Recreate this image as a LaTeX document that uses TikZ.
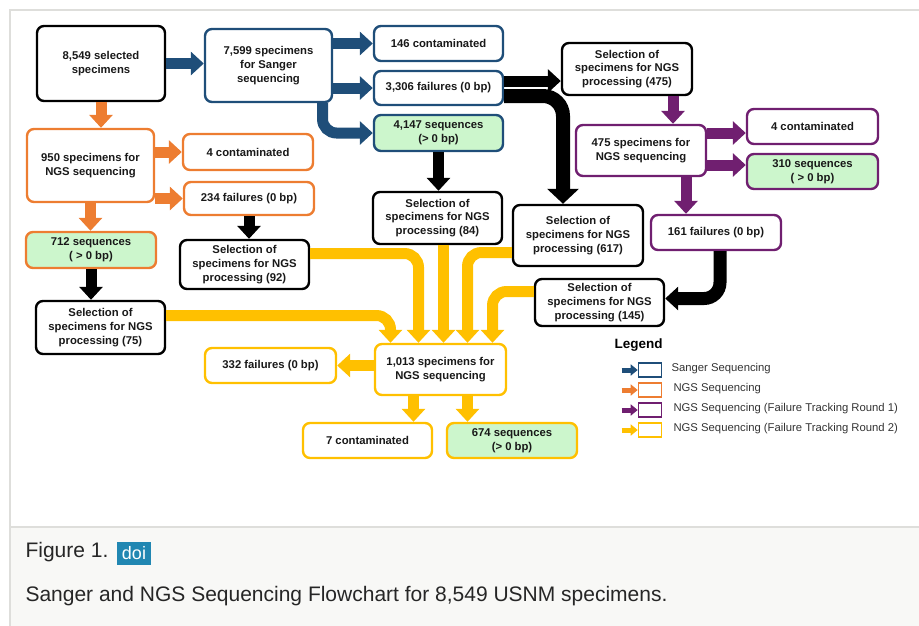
\documentclass[tikz,border=0pt]{standalone}
\usepackage{fontspec}
\setmainfont{Liberation Sans}
\usetikzlibrary{arrows.meta,calc}
\newlength{\du}
\setlength{\du}{1pt}
\newcommand{\boxfont}{\fontsize{11.3}{13.8}\selectfont\bfseries}
\newcommand{\legfont}{\fontsize{11.3}{13.8}\selectfont}
\tikzset{
  flowbox/.style={draw, rounded corners=7\du, line width=2.4\du, fill=white,
    align=center, inner sep=0pt, font=\boxfont, text=black!90},
  seqbox/.style={flowbox, fill=seqfill},
  flowarrow/.style={line width=11\du, -{Triangle[width=23pt,length=13pt]}},
  bigarrow/.style={line width=14\du, -{Triangle[width=31pt,length=15pt]}},
  legarrow/.style={line width=5\du, -{Triangle[width=11pt,length=7pt]}},
  legbox/.style={draw, line width=1.6\du, minimum width=23\du, minimum height=14\du, inner sep=0pt},
}

\begin{document}
\begin{tikzpicture}
\pgftransformxscale{1.000000}
\pgftransformyscale{-1.000000}
\useasboundingbox (0\du,0\du) rectangle (919\du,625\du);
\definecolor{sangercolor}{rgb}{0.122, 0.306, 0.475}
\definecolor{ngscolor}{rgb}{0.929, 0.490, 0.192}
\definecolor{roundonecolor}{rgb}{0.440, 0.120, 0.440}
\definecolor{roundtwocolor}{rgb}{1.000, 0.753, 0.000}
\definecolor{seqfill}{rgb}{0.800, 0.965, 0.800}
\definecolor{panelline}{rgb}{0.870, 0.870, 0.860}
\definecolor{captionbg}{rgb}{0.972, 0.972, 0.965}
\definecolor{doiblue}{rgb}{0.130, 0.530, 0.700}
% panel and caption
\draw[panelline, line width=1.2\du] (10\du,640\du) -- (10\du,10\du) -- (940\du,10\du);
\fill[captionbg] (10\du,527\du) rectangle (940\du,640\du);
\draw[panelline, line width=1.5\du] (10\du,640\du) -- (10\du,527\du) -- (940\du,527\du);
% Sanger
\node[flowbox, draw=black, minimum width=128\du, minimum height=75\du] (selected) at (101\du,63.5\du) {8,549 selected\\specimens};
\node[flowbox, draw=sangercolor, minimum width=127\du, minimum height=73\du] (sanger) at (268.5\du,65.5\du) {7,599 specimens\\for Sanger\\sequencing};
\node[flowbox, draw=sangercolor, minimum width=129\du, minimum height=35\du] (sangercont) at (438.5\du,43.5\du) {146 contaminated};
\node[flowbox, draw=sangercolor, minimum width=129\du, minimum height=34\du] (sangerfail) at (438.5\du,88\du) {3,306 failures (0 bp)};
\node[seqbox, draw=sangercolor, minimum width=129\du, minimum height=36\du] (sangerseq) at (438.5\du,133\du) {4,147 sequences\\(> 0 bp)};
% NGS
\node[flowbox, draw=ngscolor, minimum width=127\du, minimum height=73\du] (ngsfirst) at (90.5\du,165.5\du) {950 specimens for\\NGS sequencing};
\node[flowbox, draw=ngscolor, minimum width=130\du, minimum height=36\du] (ngscont) at (248\du,152\du) {4 contaminated};
\node[flowbox, draw=ngscolor, minimum width=130\du, minimum height=33\du] (ngsfail) at (249\du,198.5\du) {234 failures (0 bp)};
\node[seqbox, draw=ngscolor, minimum width=130\du, minimum height=36\du] (ngsseq) at (91\du,250\du) {712 sequences\\( > 0 bp)};
\node[flowbox, draw=black, minimum width=129\du, minimum height=53\du] (selseqngs) at (100.5\du,327.5\du) {Selection of\\specimens for NGS\\processing (75)};
\node[flowbox, draw=black, minimum width=129\du, minimum height=49\du] (selfailngs) at (244.5\du,264.5\du) {Selection of\\specimens for NGS\\processing (92)};
\node[flowbox, draw=black, minimum width=129\du, minimum height=52\du] (selseqsanger) at (437.5\du,218\du) {Selection of\\specimens for NGS\\processing (84)};
\node[flowbox, draw=black, minimum width=130\du, minimum height=61\du] (selfailsanger) at (578\du,235.5\du) {Selection of\\specimens for NGS\\processing (617)};
% failure tracking round 1
\node[flowbox, draw=black, minimum width=130\du, minimum height=52\du] (selroundone) at (627\du,69\du) {Selection of\\specimens for NGS\\processing (475)};
\node[flowbox, draw=roundonecolor, minimum width=130\du, minimum height=51\du] (roundone) at (641\du,150.5\du) {475 specimens for\\NGS sequencing};
\node[flowbox, draw=roundonecolor, minimum width=131\du, minimum height=35\du] (roundonecont) at (812.5\du,126.5\du) {4 contaminated};
\node[seqbox, draw=roundonecolor, minimum width=131\du, minimum height=35\du] (roundoneseq) at (812.5\du,171.5\du) {310 sequences\\( > 0 bp)};
\node[flowbox, draw=roundonecolor, minimum width=130\du, minimum height=35\du] (roundonefail) at (716\du,232.5\du) {161 failures (0 bp)};
\node[flowbox, draw=black, minimum width=129\du, minimum height=47\du] (selfailround) at (599.5\du,302.5\du) {Selection of\\specimens for NGS\\processing (145)};
% failure tracking round 2
\node[flowbox, draw=roundtwocolor, minimum width=131\du, minimum height=51\du] (roundtwo) at (440.5\du,369.5\du) {1,013 specimens for\\NGS sequencing};
\node[flowbox, draw=roundtwocolor, minimum width=131\du, minimum height=35\du] (roundtwofail) at (270.5\du,365.5\du) {332 failures (0 bp)};
\node[flowbox, draw=roundtwocolor, minimum width=129\du, minimum height=35\du] (roundtwocont) at (367.5\du,440.5\du) {7 contaminated};
\node[seqbox, draw=roundtwocolor, minimum width=130\du, minimum height=35\du] (roundtwoseq) at (512\du,440.5\du) {674 sequences\\(> 0 bp)};
% arrows
\draw[flowarrow, sangercolor] (selected.east) -- (selected.east -| sanger.west);
\draw[flowarrow, sangercolor] (sanger.east |- sangercont.west) -- (sangercont.west);
\draw[flowarrow, sangercolor] (sanger.east |- sangerfail.west) -- (sangerfail.west);
\draw[flowarrow, sangercolor, rounded corners=14\du] ($(sanger.south)+(54\du,0)$) |- (sangerseq.west);
\draw[flowarrow, ngscolor] (selected.south) -- (selected.south |- ngsfirst.north);
\draw[flowarrow, ngscolor] (ngsfirst.east |- ngscont.west) -- (ngscont.west);
\draw[flowarrow, ngscolor] (ngsfirst.east |- ngsfail.west) -- (ngsfail.west);
\draw[flowarrow, ngscolor] (ngsfirst.south) -- (ngsfirst.south |- ngsseq.north);
\draw[flowarrow, black] (ngsfail.south) -- (ngsfail.south |- selfailngs.north);
\draw[flowarrow, black] (ngsseq.south) -- (ngsseq.south |- selseqngs.north);
\draw[flowarrow, black] (sangerseq.south) -- (sangerseq.south |- selseqsanger.north);
\draw[flowarrow, black] ($(sangerfail.east)+(0,-7\du)$) coordinate (failtop) -- (failtop -| selroundone.west);
\draw[bigarrow, black, rounded corners=20\du] ($(sangerfail.east)+(0,8\du)$) -| ($(selfailsanger.north)+(-15\du,0)$);
\draw[flowarrow, black, line width=13\du, rounded corners=16\du] ($(roundonefail.south)+(4\du,0)$) |- ($(selfailround.east)+(0,-4\du)$);
\path ($(roundonecont.west)+(0,6.5\du)$) coordinate (contin)
      ($(roundoneseq.west)+(0,-6.5\du)$) coordinate (seqin);
\draw[flowarrow, roundonecolor] ($(selroundone.south)+(46\du,0)$) coordinate (selout) -- (selout |- roundone.north);
\draw[flowarrow, roundonecolor] (roundone.east |- contin) -- (contin);
\draw[flowarrow, roundonecolor] (roundone.east |- seqin) -- (seqin);
\draw[flowarrow, roundonecolor] ($(roundone.south)+(45\du,0)$) coordinate (failout) -- (failout |- roundonefail.north);
\path ($(roundtwo.north)+(-50\du,0)$) coordinate (inseventyfive)
      ($(roundtwo.north)+(-22\du,0)$) coordinate (inninetytwo)
      ($(roundtwo.north)+(3\du,0)$) coordinate (ineightyfour)
      ($(roundtwo.north)+(27\du,0)$) coordinate (insixseventeen)
      ($(roundtwo.north)+(52\du,0)$) coordinate (inonefortyfive);
\draw[flowarrow, roundtwocolor, rounded corners=14\du] ($(selseqngs.east)+(0,-12\du)$) -| (inseventyfive);
\draw[flowarrow, roundtwocolor, rounded corners=14\du] ($(selfailngs.east)+(0,-11\du)$) -| (inninetytwo);
\draw[flowarrow, roundtwocolor] (ineightyfour |- selseqsanger.south) -- (ineightyfour);
\draw[flowarrow, roundtwocolor, rounded corners=14\du] ($(selfailsanger.west)+(0,17\du)$) -| (insixseventeen);
\draw[flowarrow, roundtwocolor, rounded corners=14\du] ($(selfailround.west)+(0,-11\du)$) -| (inonefortyfive);
\draw[flowarrow, roundtwocolor] (roundtwo.west |- roundtwofail.east) -- (roundtwofail.east);
\draw[flowarrow, roundtwocolor] ($(roundtwo.south)+(-27\du,0)$) coordinate (outseven) -- (outseven |- roundtwocont.north);
\draw[flowarrow, roundtwocolor] ($(roundtwo.south)+(27\du,0)$) coordinate (outseq) -- (outseq |- roundtwoseq.north);
% legend
\node[anchor=west, font=\fontsize{13.5}{16}\selectfont\bfseries] (legendtitle) at (611\du,345\du) {Legend};
\node[legbox, draw=sangercolor] (legsanger) at (650\du,370\du) {};
\node[legbox, draw=ngscolor] (legngs) at (650\du,390\du) {};
\node[legbox, draw=roundonecolor] (legroundone) at (650\du,410\du) {};
\node[legbox, draw=roundtwocolor] (legroundtwo) at (650\du,430\du) {};
\draw[legarrow, sangercolor] ($(legsanger.west)+(-16\du,0)$) -- (legsanger.west);
\draw[legarrow, ngscolor] ($(legngs.west)+(-16\du,0)$) -- (legngs.west);
\draw[legarrow, roundonecolor] ($(legroundone.west)+(-16\du,0)$) -- (legroundone.west);
\draw[legarrow, roundtwocolor] ($(legroundtwo.west)+(-16\du,0)$) -- (legroundtwo.west);
\node[anchor=west, font=\legfont, text=black!80] (legsangertext) at (668\du,369\du) {Sanger Sequencing};
\node[anchor=west, font=\legfont, text=black!80] (legngstext) at (670\du,389\du) {NGS Sequencing};
\node[anchor=west, font=\legfont, text=black!80] (legroundonetext) at (670\du,409\du) {NGS Sequencing (Failure Tracking Round 1)};
\node[anchor=west, font=\legfont, text=black!80] (legroundtwotext) at (670\du,429\du) {NGS Sequencing (Failure Tracking Round 2)};
% caption
\node[anchor=west, font=\fontsize{21}{25}\selectfont, text=black!85] (figlabel) at (22\du,552\du) {Figure 1.};
\node[fill=doiblue, text=white, font=\fontsize{18}{21}\selectfont, inner sep=0pt, minimum width=34\du, minimum height=23\du] (doibadge) at (134\du,553.5\du) {doi};
\node[anchor=west, font=\fontsize{21}{25}\selectfont, text=black!85] (captiontext) at (22\du,596\du) {Sanger and NGS Sequencing Flowchart for 8,549 USNM specimens.};
\end{tikzpicture}
\end{document}
